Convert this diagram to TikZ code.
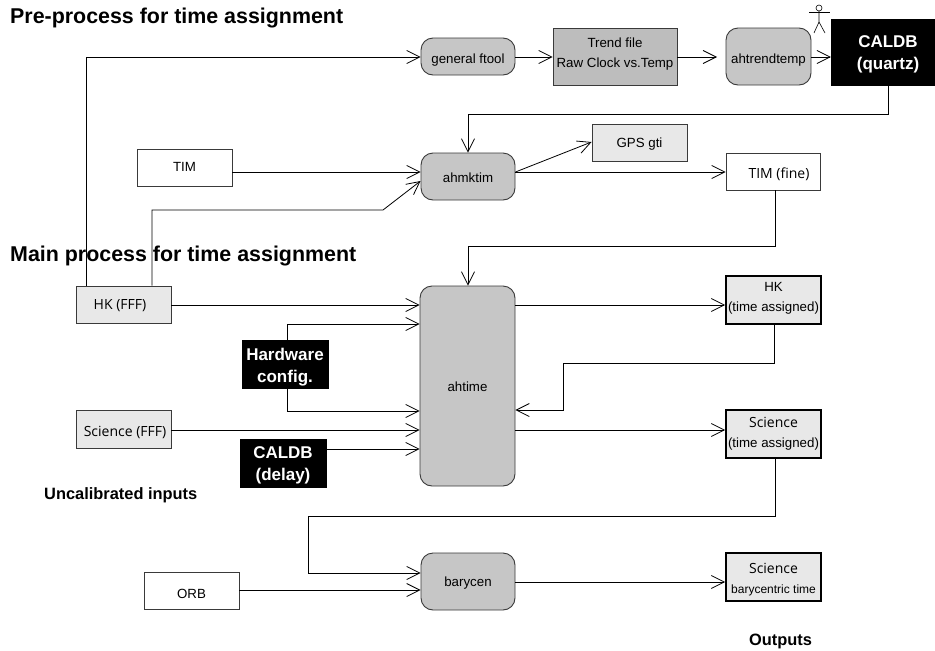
\documentclass[tikz,border=0pt]{standalone}
\usepackage{fontspec}
\setmainfont{Liberation Sans}
\newfontfamily\myr{Open Sans}
\usetikzlibrary{arrows.meta,calc}
\definecolor{procgray}{HTML}{C6C6C6}
\definecolor{trendgray}{HTML}{BDBDBD}
\definecolor{datagray}{HTML}{E8E8E8}
\definecolor{edgegray}{HTML}{3A3A3A}
\newcommand\bx[7]{%
  \pgfmathsetmacro\cxx{(#3+#5)/2}\pgfmathsetmacro\cyy{(#4+#6)/2}%
  \pgfmathsetmacro\wdd{#5-#3}\pgfmathsetmacro\htt{#6-#4}%
  \node[#2,minimum width=\wdd pt,minimum height=\htt pt] (#1) at (\cxx,\cyy) {#7};}
\newcommand\lifted[2]{\raisebox{#1}[0pt][0pt]{\begin{tabular}{@{}c@{}}#2\end{tabular}}}
\newcommand\drop[2]{\raisebox{-#1}[0pt][0pt]{#2}}
\tikzset{
  base/.style={draw=edgegray,line width=0.9pt,inner sep=0pt,align=center,font=\fontsize{13.3}{20}\selectfont},
  proc/.style={base,fill=procgray,rounded corners=12pt},
  trendbox/.style={base,fill=trendgray},
  plain/.style={base,fill=white},
  data/.style={base,fill=datagray},
  output/.style={base,fill=datagray,draw=black,line width=1.7pt},
  calbox/.style={draw=black,fill=black,text=white,inner sep=0pt,align=center,font=\bfseries\fontsize{17}{22}\selectfont},
  title/.style={font=\bfseries\fontsize{21.4}{24}\selectfont,anchor=west,inner sep=0pt},
  caption/.style={font=\bfseries\fontsize{16.4}{18}\selectfont,anchor=west,inner sep=0pt},
  link/.style={draw=black,line width=0.8pt,-{Straight Barb[length=13pt,width=13pt,line width=0.8pt]}},
  person/.style={draw=black,line width=0.6pt}
}
\begin{document}
\begin{tikzpicture}[x=1pt,y=-1pt]
\useasboundingbox (0,0) rectangle (935,651);
\fill[white] (0,0) rectangle (935,651);
\node[title] (t1) at (10,18) {Pre-process for time assignment};
\node[title] (t2) at (10,256) {Main process for time assignment};
\node[caption] (t3) at (44,495) {Uncalibrated inputs};
\node[caption] (t4) at (749,641) {Outputs};
\bx{gen}{proc}{421}{38}{515}{75}{\drop{7pt}{general ftool}}
\bx{trend}{trendbox}{553}{28}{677}{85}{\lifted{-1pt}{Trend file\\Raw Clock vs.Temp}}
\bx{att}{proc}{726}{28}{811}{85}{\drop{7pt}{ahtrendtemp}}
\bx{cq}{calbox}{831}{19}{945}{85}{\lifted{-6pt}{CALDB\\(quartz)}}
\bx{tim}{plain}{137}{149}{232}{186}{\drop{4pt}{TIM}}
\bx{mk}{proc}{421}{153}{515}{200}{\drop{6pt}{ahmktim}}
\bx{gps}{data}{592}{124}{687}{161}{\drop{5pt}{GPS gti}}
\bx{fine}{plain}{726}{153}{820}{190}{\hspace*{12pt}\drop{7pt}{\myr\fontsize{14}{20}\selectfont TIM (fine)}}
\bx{hk}{data}{76}{286}{171}{323}{\drop{5pt}{\myr\fontsize{14}{20}\selectfont HK (FFF)}\hspace*{7pt}}
\bx{sci}{data}{76}{410}{171}{448}{\hspace*{3pt}\drop{7pt}{\myr\fontsize{14}{20}\selectfont Science (FFF)}}
\bx{hw}{calbox}{242}{340}{328}{388}{\lifted{-7pt}{Hardware\\config.}}
\bx{cd}{calbox}{240}{439}{326}{487}{\lifted{-6pt}{CALDB\\(delay)}}
\bx{at}{proc}{420}{286}{515}{486}{\drop{5pt}{ahtime}}
\bx{hko}{output}{726}{276}{821}{324}{\lifted{-1pt}{HK\\(time assigned)}}
\bx{sco}{output}{726}{410}{821}{458}{\lifted{-3pt}{{\myr\fontsize{14}{20}\selectfont Science}\\(time assigned)}}
\bx{bar}{proc}{421}{553}{515}{610}{\drop{5pt}{barycen}}
\bx{orb}{plain}{144}{572}{239}{609}{\drop{8pt}{ORB}}
\bx{bso}{output}{726}{553}{821}{601}{\lifted{-6pt}{{\myr\fontsize{14}{20}\selectfont Science}\\{\fontsize{12}{15}\selectfont barycentric time}}}
% connectors
\coordinate (hkup) at (86,57);
\coordinate (hkmid1) at (152,210);
\coordinate (hkmid2) at (383,210);
\draw[link] (hk.north -| hkup) -- (hkup) -- (gen.west |- hkup);
\draw[link] (gen.east |- hkup) -- (trend.west |- hkup);
\coordinate (trendend) at (717,57);
\draw[link] (trend.east |- hkup) -- (trendend);
\draw[link] (att.east |- hkup) -- (cq.west |- hkup);
\coordinate (qa) at (888,114);
\coordinate (qb) at (468,114);
\draw[link] (cq.south -| qa) -- (qa) -- (qb) -- (mk.north -| qb);
\coordinate (y172) at (0,172);
\draw[link] (tim.east |- y172) -- (mk.west |- y172);
\draw[link] (hk.north -| hkmid1) -- (hkmid1) -- (hkmid2) -- (mk.west |- 0,181);
\draw[link] (mk.east |- y172) -- (gps.west |- 0,142);
\draw[link] (mk.east |- y172) -- (fine.west |- y172);
\coordinate (fa) at (775,246);
\coordinate (fb) at (468,246);
\draw[link] (fine.south -| fa) -- (fa) -- (fb) -- (at.north -| fb);
\draw[link] (hk.east |- 0,305) -- (at.west |- 0,305);
\coordinate (hwa) at (287,324);
\coordinate (hwb) at (287,411);
\draw[link] (hw.north -| hwa) -- (hwa) -- (at.west |- hwa);
\draw[link] (hw.south -| hwb) -- (hwb) -- (at.west |- hwb);
\draw[link] (sci.east |- 0,430) -- (at.west |- 0,430);
\draw[link] (cd.east |- 0,449) -- (at.west |- 0,449);
\draw[link] (at.east |- 0,305) -- (hko.west |- 0,305);
\coordinate (ba) at (774,363);
\coordinate (bb) at (563,363);
\coordinate (bc) at (563,410);
\draw[link] (hko.south -| ba) -- (ba) -- (bb) -- (bc) -- (at.east |- bc);
\draw[link] (at.east |- 0,430) -- (sco.west |- 0,430);
\coordinate (sa) at (775,516);
\coordinate (sb) at (308,516);
\coordinate (sc) at (308,573);
\draw[link] (sco.south -| sa) -- (sa) -- (sb) -- (sc) -- (bar.west |- sc);
\draw[link] (orb.east |- 0,590) -- (bar.west |- 0,590);
\draw[link] (bar.east |- 0,582) -- (bso.west |- 0,582);
% actor
\draw[person] (819,8) circle (3);
\draw[person] (809,12) -- (830,12);
\draw[person] (819,11) -- (819,22) -- (814,33);
\draw[person] (819,22) -- (825,33);
\end{tikzpicture}
\end{document}
